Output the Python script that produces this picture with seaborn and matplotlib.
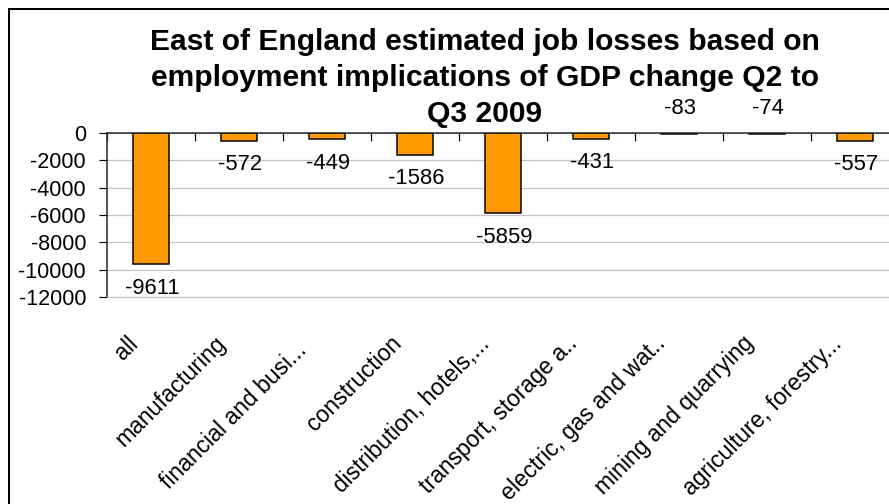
import matplotlib
matplotlib.use("Agg")
import matplotlib.pyplot as plt
import matplotlib.transforms as mtransforms
from matplotlib.patches import Rectangle
from matplotlib.ticker import FixedLocator, FuncFormatter
import seaborn as sns
import pandas as pd

# Sector job losses, East of England, Q2 -> Q3 2009
categories = [
    "all",
    "manufacturing",
    "financial and busi...",
    "construction",
    "distribution, hotels,...",
    "transport, storage a..",
    "electric, gas and wat..",
    "mining and quarrying",
    "agriculture, forestry...",
]
job_change = [-9611, -572, -449, -1586, -5859, -431, -83, -74, -557]
y_ticks = [0, -2000, -4000, -6000, -8000, -10000, -12000]
title_lines = [
    "East of England estimated job losses based on",
    "employment implications of GDP change Q2 to",
    "Q3 2009",
]

sns.set_theme(style="white")
plt.rcParams["font.family"] = ["Liberation Sans", "DejaVu Sans"]
plt.rcParams["axes.unicode_minus"] = False

W, H = 889, 504
DPI = 72
fig = plt.figure(figsize=(W / DPI, H / DPI), dpi=DPI, facecolor="white")

# plot area in pixel units (runs slightly past the right edge)
left, right, top, bottom = 107, 899, 133, 297
ax = fig.add_axes([left / W, (H - bottom) / H, (right - left) / W, (bottom - top) / H])

df = pd.DataFrame({"sector": categories, "jobs": job_change})
sns.barplot(data=df, x="sector", y="jobs", ax=ax, color="#FF9900",
            edgecolor="black", linewidth=1.5, width=0.41, saturation=1,
            errorbar=None, zorder=3)

ax.set_xlim(-0.5, len(categories) - 0.5)
ax.set_ylim(y_ticks[-1], y_ticks[0])
ax.set_xlabel("")
ax.set_ylabel("")

# y axis: outward ticks, light horizontal gridlines
ax.yaxis.set_major_locator(FixedLocator(y_ticks))
ax.yaxis.set_major_formatter(FuncFormatter(lambda v, p: f"{int(v)}"))
ax.tick_params(axis="y", which="major", direction="out", length=8, width=1.2,
               color="black", labelsize=21.5, labelcolor="black", pad=13, left=True)
ax.grid(axis="y", color="#c4c4c4", linewidth=1.2, zorder=0)
ax.grid(axis="x", visible=False)

# category axis sits on the zero line: boundary ticks pointing down
ax.xaxis.set_minor_locator(FixedLocator([i - 0.5 for i in range(len(categories) + 1)]))
ax.tick_params(axis="x", which="minor", top=True, bottom=False, direction="in",
               length=8, width=1.2, color="black")
ax.tick_params(axis="x", which="major", bottom=True, length=0, labelsize=23,
               labelcolor="black", pad=43)
base_shift = mtransforms.ScaledTranslation(-17 / DPI, 0, fig.dpi_scale_trans)
for lab in ax.get_xticklabels():
    lab.set_rotation(45)
    lab.set_ha("right")
    lab.set_va("center")
    lab.set_rotation_mode("anchor")
    lab.set_transform(lab.get_transform() + base_shift)

ax.spines["right"].set_visible(False)
ax.spines["bottom"].set_color("#c4c4c4")
ax.spines["bottom"].set_linewidth(1.2)
ax.spines["top"].set_color("#222222")
ax.spines["top"].set_linewidth(1.5)
ax.spines["left"].set_color("#222222")
ax.spines["left"].set_linewidth(1.5)
ax.spines["top"].set_zorder(4)

# value labels: under the bar end, or above the baseline for very short bars
for i, v in enumerate(job_change):
    if v > -100:
        y0, dy = 0, 25
    else:
        y0, dy = v, -24
    ax.annotate(f"{v}", xy=(i, y0), xytext=(1, dy), textcoords="offset points",
                ha="center", va="center", fontsize=22, color="black",
                annotation_clip=False, zorder=5)

# three-line bold title, baselines 36 px apart
for k, line in enumerate(title_lines):
    fig.text(485 / W, 1 - (50 + 36 * k) / H, line, ha="center", va="baseline",
             fontsize=30, fontweight="bold", color="black")

# truncated category names slide down their diagonal to the bottom of the label band
fig.canvas.draw()
renderer = fig.canvas.get_renderer()
band_bottom = 10  # px above the lower figure edge
for lab in ax.get_xticklabels():
    if lab.get_text().endswith(".."):
        gap = lab.get_window_extent(renderer).y0 - band_bottom
        if gap > 0:
            slide = mtransforms.ScaledTranslation(-gap / DPI, -gap / DPI, fig.dpi_scale_trans)
            lab.set_transform(lab.get_transform() + slide)

# chart frame
fig.patches.append(Rectangle((9 / W, -0.1), 1.2, 1.1 - 9 / H, fill=False,
                             edgecolor="black", linewidth=2,
                             transform=fig.transFigure, figure=fig))

fig.savefig("out.png", dpi=DPI, facecolor="white")
